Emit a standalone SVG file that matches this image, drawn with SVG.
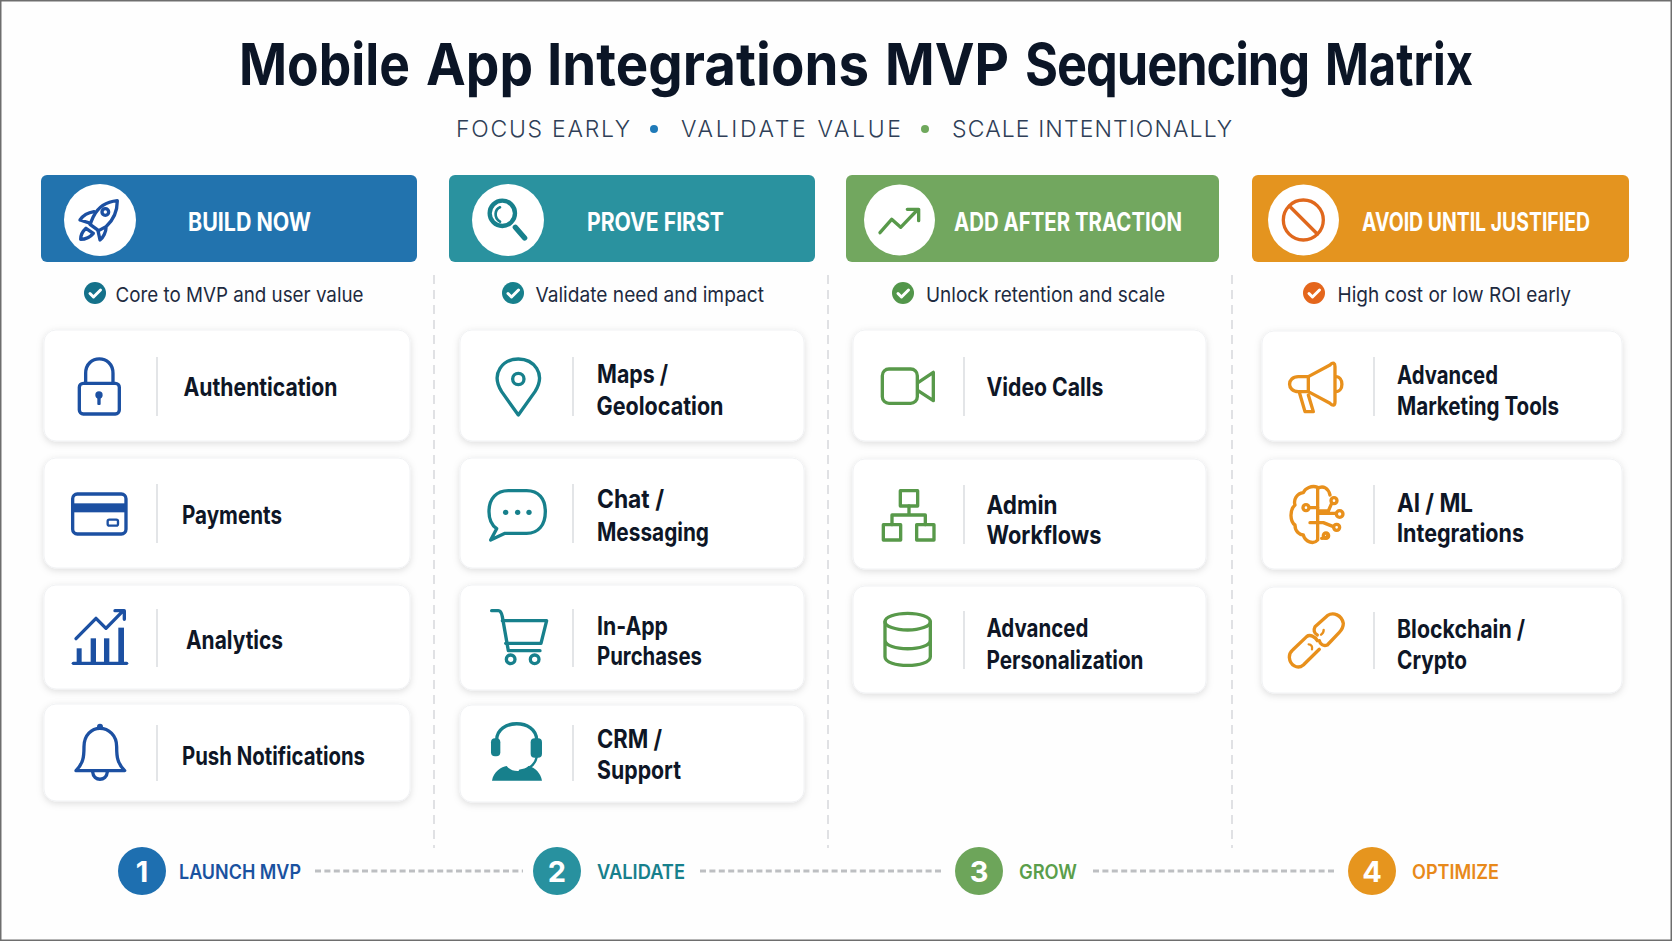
<svg xmlns="http://www.w3.org/2000/svg" width="1672" height="941" viewBox="0 0 1672 941">
<style>
text{font-family:"Inter","Liberation Sans",sans-serif}
.title{font-size:58px;font-weight:700;fill:#0b1526}
.sub{font-size:23px;font-weight:300;fill:#2f3f57}
.hd{font-size:25px;font-weight:700;fill:#fff}
.cap{font-size:20.5px;font-weight:400;fill:#1d2a40}
.lbl{font-size:25px;font-weight:650;fill:#0e1626}
.step{font-size:19.5px;font-weight:600}
.num{font-size:29px;font-weight:700;fill:#fff;text-anchor:middle}
.card{fill:#fff;stroke:#f1f2f4;stroke-width:1;filter:url(#sh)}
.sep{stroke:#dcdfe2;stroke-width:1.6}
.disc{fill:#fff}
.ic{fill:none;stroke-width:10;stroke-linecap:round;stroke-linejoin:round}
.blue{stroke:#1c50a2}.teal{stroke:#17808c}.green{stroke:#58994a}.orange{stroke:#e8901c}
.fb{fill:#1c50a2;stroke:none}.ft{fill:#17808c;stroke:none}
.tick{fill:none;stroke:#fff;stroke-width:3;stroke-linecap:round;stroke-linejoin:round}
.cdash{fill:none;stroke:#d6d8db;stroke-width:1.5;stroke-dasharray:9 6}
.sdash{fill:none;stroke:#bdbfc2;stroke-width:3;stroke-dasharray:6 3.400}
</style>
<defs>
<filter id="sh" x="-5%" y="-10%" width="110%" height="125%"><feDropShadow dx="0" dy="2" stdDeviation="3.5" flood-color="#000" flood-opacity=".13"/></filter>
</defs>
<rect x="0.75" y="0.75" width="1670.5" height="939.5" fill="#fefefe" stroke="#6e6e6e" stroke-width="1.5"/>

<g id="title">
<text class="title" y="85"><tspan x="239" textLength="171" lengthAdjust="spacingAndGlyphs">Mobile</tspan> <tspan x="426" textLength="107" lengthAdjust="spacingAndGlyphs">App</tspan> <tspan x="547" textLength="322" lengthAdjust="spacingAndGlyphs">Integrations</tspan> <tspan x="885" textLength="124" lengthAdjust="spacingAndGlyphs">MVP</tspan> <tspan x="1025" textLength="284" lengthAdjust="spacingAndGlyphs" letter-spacing="-1.2">Sequencing</tspan> <tspan x="1325" textLength="148" lengthAdjust="spacingAndGlyphs">Matrix</tspan></text>
<text class="sub" x="456" y="137" textLength="174" lengthAdjust="spacing">FOCUS EARLY</text>
<circle cx="654" cy="129" r="4" fill="#1f7ab8"/>
<text class="sub" x="681" y="137" textLength="220" lengthAdjust="spacing">VALIDATE VALUE</text>
<circle cx="925" cy="129" r="4" fill="#6fa85c"/>
<text class="sub" x="952" y="137" textLength="280" lengthAdjust="spacing">SCALE INTENTIONALLY</text>
</g>

<g id="connectors">
<path class="cdash" d="M434 275V848M828 275V848M1232 275V848"/>
<path class="sdash" d="M315 871H523M700 871H943M1093 871H1336"/>
</g>

<g id="col-build-now">
<rect x="41" y="175" width="376" height="87" rx="6" fill="#2273ae"/>
<circle class="disc" cx="100" cy="220" r="36"/>
<g class="ic blue" transform="translate(0 160) scale(.3333)">
<path d="M352 122C320 125 295 140 280 170L270 193L296 212L318 200C340 180 352 155 352 122Z"/>
<circle cx="316" cy="156" r="10"/>
<path d="M282 155C262 158 248 168 240 180L272 190M318 205C318 215 310 232 300 240L294 212M258 205C247 215 242 228 242 238C255 238 270 232 280 220Z"/>
</g>
<text class="hd" x="188" y="231" textLength="123" lengthAdjust="spacingAndGlyphs">BUILD NOW</text>
<circle cx="95" cy="293" r="11" fill="#14718a"/>
<path class="tick" d="M90 293.500L93.500 297L100.500 290"/>
<text class="cap" x="115.500" y="302" textLength="248" lengthAdjust="spacingAndGlyphs">Core to MVP and user value</text>
</g>
<g id="card-authentication">
<rect class="card" x="44" y="330" width="366" height="111" rx="12"/>
<g class="ic blue" transform="translate(0 160) scale(.3333)">
<rect x="238" y="670" width="120" height="92" rx="12"/>
<path d="M257 670V640C257 582 339 582 339 640V670"/>
<circle class="fb" cx="297" cy="705" r="11"/><rect class="fb" x="292" y="705" width="10" height="30" rx="3"/>
</g>
<line class="sep" x1="157" y1="357" x2="157" y2="416"/>
<text class="lbl" x="183.500" y="396" textLength="154" lengthAdjust="spacingAndGlyphs">Authentication</text>
</g>
<g id="card-payments">
<rect class="card" x="44" y="458" width="366" height="110" rx="12"/>
<g class="ic blue" transform="translate(0 450) scale(.3333)">
<rect x="218" y="132" width="160" height="120" rx="14"/>
<rect class="fb" x="218" y="160" width="160" height="27"/>
<rect x="323" y="209" width="31" height="18" rx="5" stroke-width="7"/>
</g>
<line class="sep" x1="157" y1="484" x2="157" y2="543"/>
<text class="lbl" x="182" y="524" textLength="100" lengthAdjust="spacingAndGlyphs">Payments</text>
</g>
<g id="card-analytics">
<rect class="card" x="44" y="585" width="366" height="104" rx="12"/>
<g class="ic blue" transform="translate(0 450) scale(.3333)">
<path d="M220 640H380"/>
<rect class="fb" x="230" y="595" width="15" height="45"/><rect class="fb" x="272" y="565" width="16" height="75"/><rect class="fb" x="312" y="565" width="16" height="75"/><rect class="fb" x="355" y="533" width="17" height="107"/>
<path d="M228 566L288 505L318 535L370 482M345 482H373V508"/>
</g>
<line class="sep" x1="157" y1="609" x2="157" y2="667"/>
<text class="lbl" x="186" y="649" textLength="97" lengthAdjust="spacingAndGlyphs">Analytics</text>
</g>
<g id="card-push-notifications">
<rect class="card" x="44" y="704" width="366" height="97" rx="12"/>
<g class="ic blue" transform="translate(0 450) scale(.3333)">
<path d="M228 962C250 940 252 920 252 890C252 855 275 835 300 835C325 835 350 855 350 890C350 920 352 940 374 962Z"/>
<circle class="fb" cx="300" cy="830" r="9"/>
<path d="M278 966C280 995 320 995 322 966"/>
</g>
<line class="sep" x1="157" y1="725" x2="157" y2="781"/>
<text class="lbl" x="182" y="765" textLength="183" lengthAdjust="spacingAndGlyphs">Push Notifications</text>
</g>

<g id="col-prove-first">
<rect x="449" y="175" width="366" height="87" rx="6" fill="#2a929f"/>
<circle class="disc" cx="508" cy="220" r="36"/>
<g class="ic teal" transform="translate(440 160) scale(.3333)">
<circle cx="187" cy="160" r="38" stroke-width="13"/>
<path d="M180 142C165 148 160 172 180 185" stroke-width="8"/>
<path d="M226 202L254 234" stroke-width="16"/>
</g>
<text class="hd" x="587" y="231" textLength="137" lengthAdjust="spacingAndGlyphs">PROVE FIRST</text>
<circle cx="513" cy="293" r="11" fill="#17808c"/>
<path class="tick" d="M508 293.500L511.500 297L518.500 290"/>
<text class="cap" x="535.500" y="302" textLength="228.500" lengthAdjust="spacingAndGlyphs">Validate need and impact</text>
</g>
<g id="card-maps">
<rect class="card" x="460" y="330" width="344" height="111" rx="12"/>
<g class="ic teal" transform="translate(440 160) scale(.3333)">
<path d="M235 765L185 695C150 640 190 597 235 597C280 597 320 640 285 695Z"/>
<circle cx="235" cy="657" r="17"/>
</g>
<line class="sep" x1="573" y1="357" x2="573" y2="416"/>
<text class="lbl" x="597" y="383" textLength="71" lengthAdjust="spacingAndGlyphs">Maps /</text>
<text class="lbl" x="596.500" y="415" textLength="127" lengthAdjust="spacingAndGlyphs">Geolocation</text>
</g>
<g id="card-chat">
<rect class="card" x="460" y="458" width="344" height="110" rx="12"/>
<g class="ic teal" transform="translate(440 450) scale(.3333)">
<path d="M205 122H260C295 122 316 145 316 185C316 225 295 250 260 250H195L152 270L170 236C155 225 147 205 147 185C147 145 170 122 205 122Z"/>
<circle class="ft" cx="197" cy="187" r="8"/><circle class="ft" cx="233" cy="187" r="8"/><circle class="ft" cx="267" cy="187" r="8"/>
</g>
<line class="sep" x1="573" y1="484" x2="573" y2="543"/>
<text class="lbl" x="597" y="508" textLength="67" lengthAdjust="spacingAndGlyphs">Chat /</text>
<text class="lbl" x="597" y="541" textLength="112" lengthAdjust="spacingAndGlyphs">Messaging</text>
</g>
<g id="card-purchases">
<rect class="card" x="460" y="585" width="344" height="105" rx="12"/>
<g class="ic teal" transform="translate(440 450) scale(.3333)">
<path d="M155 482H175C182 482 185 490 187 500L205 602H300"/>
<path d="M187 512H320L303 580H197"/>
<circle cx="212" cy="628" r="13"/><circle cx="284" cy="628" r="13"/>
</g>
<line class="sep" x1="573" y1="609" x2="573" y2="667"/>
<text class="lbl" x="597" y="635" textLength="71" lengthAdjust="spacingAndGlyphs">In-App</text>
<text class="lbl" x="597" y="665" textLength="105" lengthAdjust="spacingAndGlyphs">Purchases</text>
</g>
<g id="card-crm">
<rect class="card" x="460" y="705" width="344" height="97" rx="12"/>
<g class="ic teal" transform="translate(440 450) scale(.3333)">
<path d="M170 870C170 805 290 805 290 870"/>
<rect class="ft" x="153" y="865" width="28" height="54" rx="12"/>
<rect class="ft" x="272" y="865" width="34" height="58" rx="12"/>
<path d="M290 922C285 945 265 958 240 962" stroke-width="7"/>
<path class="ft" d="M156 992C160 965 185 950 200 948C215 968 250 968 265 948C285 952 303 970 306 992Z"/>
</g>
<line class="sep" x1="573" y1="725" x2="573" y2="781"/>
<text class="lbl" x="597" y="748" textLength="65" lengthAdjust="spacingAndGlyphs">CRM /</text>
<text class="lbl" x="597" y="779" textLength="84" lengthAdjust="spacingAndGlyphs">Support</text>
</g>

<g id="col-add-after-traction">
<rect x="846" y="175" width="373" height="87" rx="6" fill="#72a75f"/>
<circle class="disc" cx="899.500" cy="220" r="35.500"/>
<g class="ic green" transform="translate(830 160) scale(.3333)">
<path d="M150 218L185 178L212 202L262 150M232 148H266V182"/>
</g>
<text class="hd" x="954" y="231" textLength="228" lengthAdjust="spacingAndGlyphs">ADD AFTER TRACTION</text>
<circle cx="903" cy="293" r="11" fill="#52964a"/>
<path class="tick" d="M898 293.500L901.500 297L908.500 290"/>
<text class="cap" x="926" y="302" textLength="239" lengthAdjust="spacingAndGlyphs">Unlock retention and scale</text>
</g>
<g id="card-video">
<rect class="card" x="853" y="330" width="353" height="111" rx="12"/>
<g class="ic green" transform="translate(830 160) scale(.3333)">
<rect x="157" y="627" width="105" height="103" rx="20"/>
<path d="M264 668L310 637V722L264 692"/>
</g>
<line class="sep" x1="964" y1="357" x2="964" y2="416"/>
<text class="lbl" x="986.500" y="396" textLength="117" lengthAdjust="spacingAndGlyphs">Video Calls</text>
</g>
<g id="card-admin">
<rect class="card" x="853" y="459" width="353" height="110" rx="12"/>
<g class="ic green" transform="translate(830 450) scale(.3333)">
<rect x="211" y="122" width="52" height="46"/><rect x="160" y="224" width="52" height="46"/><rect x="260" y="224" width="52" height="46"/>
<path d="M237 168V195M186 224V195H286V224"/>
</g>
<line class="sep" x1="964" y1="485" x2="964" y2="544"/>
<text class="lbl" x="986.500" y="514" textLength="71" lengthAdjust="spacingAndGlyphs">Admin</text>
<text class="lbl" x="986.500" y="544" textLength="115" lengthAdjust="spacingAndGlyphs">Workflows</text>
</g>
<g id="card-personalization">
<rect class="card" x="853" y="586" width="353" height="107" rx="12"/>
<g class="ic green" transform="translate(830 450) scale(.3333)">
<ellipse cx="233" cy="515" rx="68" ry="25"/>
<path d="M165 515V620C165 655 301 655 301 620V515M165 570C165 605 301 605 301 570"/>
</g>
<line class="sep" x1="964" y1="611" x2="964" y2="669"/>
<text class="lbl" x="986.500" y="637" textLength="102" lengthAdjust="spacingAndGlyphs">Advanced</text>
<text class="lbl" x="986.500" y="669" textLength="157" lengthAdjust="spacingAndGlyphs">Personalization</text>
</g>

<g id="col-avoid-until-justified">
<rect x="1252" y="175" width="377" height="87" rx="6" fill="#e4941f"/>
<circle class="disc" cx="1303.500" cy="220" r="35.500"/>
<g class="ic" stroke="#e0681d" transform="translate(1240 160) scale(.3333)">
<circle cx="190" cy="180" r="60"/>
<path d="M148 138L232 222"/>
</g>
<text class="hd" x="1362" y="231" textLength="228" lengthAdjust="spacingAndGlyphs">AVOID UNTIL JUSTIFIED</text>
<circle cx="1314" cy="293" r="11" fill="#e4661c"/>
<path class="tick" d="M1309 293.500L1312.500 297L1319.500 290"/>
<text class="cap" x="1337.500" y="302" textLength="233.500" lengthAdjust="spacingAndGlyphs">High cost or low ROI early</text>
</g>
<g id="card-marketing">
<rect class="card" x="1262" y="331" width="360" height="110" rx="12"/>
<g class="ic orange" transform="translate(1240 160) scale(.3333)">
<path d="M205 650L270 615C280 605 285 610 285 620V725C285 738 278 738 270 730L205 695"/>
<path d="M205 650H175C140 650 140 695 175 695H205Z"/>
<path d="M178 697L195 755H220L205 705M287 650C312 650 312 695 287 695"/>
</g>
<line class="sep" x1="1374" y1="357" x2="1374" y2="416"/>
<text class="lbl" x="1397" y="384" textLength="101" lengthAdjust="spacingAndGlyphs">Advanced</text>
<text class="lbl" x="1397" y="415" textLength="162" lengthAdjust="spacingAndGlyphs">Marketing Tools</text>
</g>
<g id="card-ai-ml">
<rect class="card" x="1262" y="459" width="360" height="110" rx="12"/>
<g class="ic orange" transform="translate(1240 450) scale(.3333)" stroke-width="9">
<path d="M233 112C215 105 195 115 190 128C170 130 160 150 165 165C148 180 150 215 165 225C165 245 180 255 190 255C195 275 220 285 233 270V112"/>
<path d="M233 115C250 105 265 115 270 135M245 265C255 265 262 262 262 258"/>
<path d="M233 173H208M233 183H265L275 160M233 190H288M210 218H250L280 230"/>
<circle cx="198" cy="173" r="9"/><circle cx="282" cy="152" r="9"/><circle cx="299" cy="192" r="10"/><circle cx="290" cy="232" r="9"/><circle cx="258" cy="257" r="8"/>
</g>
<line class="sep" x1="1374" y1="485" x2="1374" y2="544"/>
<text class="lbl" x="1397" y="512" textLength="76" lengthAdjust="spacingAndGlyphs">AI / ML</text>
<text class="lbl" x="1397" y="542" textLength="127" lengthAdjust="spacingAndGlyphs">Integrations</text>
</g>
<g id="card-blockchain">
<rect class="card" x="1262" y="587" width="360" height="106" rx="12"/>
<g class="ic orange" transform="translate(1240 450) scale(.3333)">
<path d="M238 598L190 645C172 660 150 645 148 622C148 612 152 605 158 600L200 560C210 552 225 560 232 572"/>
<path d="M225 530L262 497C280 485 305 495 310 520C310 532 305 540 298 547L262 585C250 590 240 582 238 572M225 530C220 540 222 550 232 555"/>
<path d="M206 583C214 583 218 590 216 598M251 540C251 547 248 551 243 554" stroke-width="7"/>
</g>
<line class="sep" x1="1374" y1="612" x2="1374" y2="669"/>
<text class="lbl" x="1397" y="638" textLength="128" lengthAdjust="spacingAndGlyphs">Blockchain /</text>
<text class="lbl" x="1397" y="669" textLength="70" lengthAdjust="spacingAndGlyphs">Crypto</text>
</g>

<g id="step-1"><circle cx="142" cy="871" r="24" fill="#1e6fb0"/><text class="num" x="142" y="882">1</text><text class="step" x="179" y="879" fill="#1a52a0" textLength="122" lengthAdjust="spacingAndGlyphs">LAUNCH MVP</text></g>
<g id="step-2"><circle cx="557" cy="871" r="24" fill="#28919f"/><text class="num" x="557" y="882">2</text><text class="step" x="597" y="879" fill="#17808c" textLength="88" lengthAdjust="spacingAndGlyphs">VALIDATE</text></g>
<g id="step-3"><circle cx="979" cy="871" r="24" fill="#6da55a"/><text class="num" x="979" y="882">3</text><text class="step" x="1019" y="879" fill="#5a9e4b" textLength="58" lengthAdjust="spacingAndGlyphs">GROW</text></g>
<g id="step-4"><circle cx="1372" cy="871" r="24" fill="#e6951e"/><text class="num" x="1372" y="882">4</text><text class="step" x="1412" y="879" fill="#e8891a" textLength="87" lengthAdjust="spacingAndGlyphs">OPTIMIZE</text></g>
</svg>
